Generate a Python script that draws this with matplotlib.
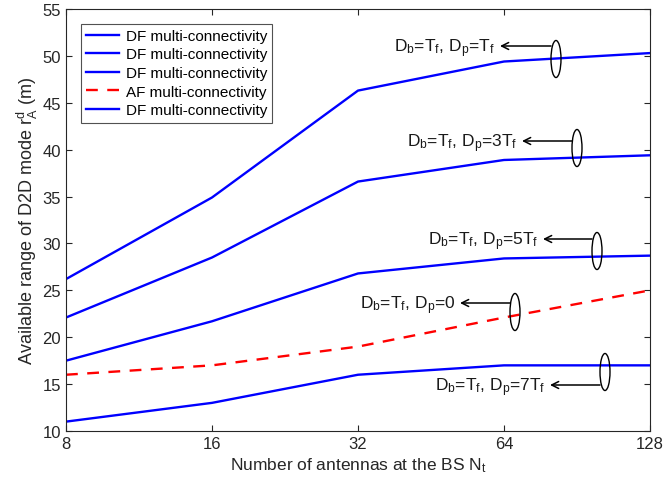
import matplotlib
matplotlib.use("Agg")
import matplotlib.pyplot as plt
from matplotlib.patches import Ellipse

plt.rcParams['font.family'] = ['Liberation Sans', 'DejaVu Sans']
plt.rcParams['mathtext.fontset'] = 'custom'
plt.rcParams['mathtext.rm'] = 'Liberation Sans'
plt.rcParams['mathtext.it'] = 'Liberation Sans'

# data
antennas = [8, 16, 32, 64, 128]
df_tf = [26.2, 34.9, 46.3, 49.4, 50.3]
df_3tf = [22.1, 28.5, 36.6, 38.9, 39.4]
df_5tf = [17.5, 21.7, 26.8, 28.4, 28.7]
af_0 = [16.0, 17.0, 19.0, 22.1, 25.0]
df_7tf = [11.0, 13.0, 16.0, 17.0, 17.0]

legend_labels = ["DF multi-connectivity", "DF multi-connectivity", "DF multi-connectivity",
                 "AF multi-connectivity", "DF multi-connectivity"]

fig = plt.figure(figsize=(6.63, 4.85), dpi=100)
ax = fig.add_axes([66 / 663, 53 / 485, 584 / 663, 422 / 485])

ax.plot(antennas, df_tf, color='#0000ff', lw=1.7, label=legend_labels[0])
ax.plot(antennas, df_3tf, color='#0000ff', lw=1.7, label=legend_labels[1])
ax.plot(antennas, df_5tf, color='#0000ff', lw=1.7, label=legend_labels[2])
ax.plot(antennas, af_0, color='#ff0000', lw=1.7, ls=(0, (5, 4)), label=legend_labels[3])
ax.plot(antennas, df_7tf, color='#0000ff', lw=1.7, label=legend_labels[4])

ax.set_xscale('log', base=2)
ax.set_xlim(8, 128)
ax.set_ylim(10, 55)
ax.set_xticks(antennas)
ax.set_xticklabels([str(a) for a in antennas])
ax.minorticks_off()
ax.set_yticks(range(10, 56, 5))
ax.tick_params(direction='in', top=True, right=True, labelsize=12, colors='#262626', length=4)
for s in ax.spines.values():
    s.set_color('#262626')
    s.set_linewidth(0.8)

ax.set_xlabel(r"Number of antennas at the BS N$_\mathregular{t}$", fontsize=12.5, color='#262626',
              labelpad=3)
ax.set_ylabel(r"Available range of D2D mode r$_\mathregular{A}^\mathregular{d}$ (m)", fontsize=13,
              color='#262626', labelpad=2)

leg = ax.legend(loc='upper left', fontsize=11, frameon=True, fancybox=False,
                edgecolor='#262626', handlelength=2.2, borderaxespad=0.95,
                labelspacing=0.3, borderpad=0.35, handletextpad=0.4)
leg.get_frame().set_linewidth(0.8)

# annotations: (ellipse centre x, y in axes fraction, arrow y, arrow tip x, text)
notes = [
    (490 / 584, 1 - 50 / 422, 1 - 37 / 422, 434 / 584, r"D$_\mathregular{b}$=T$_\mathregular{f}$, D$_\mathregular{p}$=T$_\mathregular{f}$"),
    (511 / 584, 1 - 139 / 422, 1 - 132 / 422, 456 / 584, r"D$_\mathregular{b}$=T$_\mathregular{f}$, D$_\mathregular{p}$=3T$_\mathregular{f}$"),
    (531 / 584, 1 - 242 / 422, 1 - 230 / 422, 477 / 584, r"D$_\mathregular{b}$=T$_\mathregular{f}$, D$_\mathregular{p}$=5T$_\mathregular{f}$"),
    (449 / 584, 1 - 303 / 422, 1 - 294 / 422, 394 / 584, r"D$_\mathregular{b}$=T$_\mathregular{f}$, D$_\mathregular{p}$=0"),
    (539 / 584, 1 - 363 / 422, 1 - 376 / 422, 484 / 584, r"D$_\mathregular{b}$=T$_\mathregular{f}$, D$_\mathregular{p}$=7T$_\mathregular{f}$"),
]
for cx, cy, ay, tipx, txt in notes:
    ax.add_patch(Ellipse((cx, cy), 10 / 584, 37 / 422, transform=ax.transAxes,
                         fill=False, edgecolor='black', lw=1.0, zorder=5))
    ax.annotate("", xy=(tipx, ay), xytext=(cx - 5 / 584, ay), xycoords='axes fraction',
                arrowprops=dict(arrowstyle='->,head_length=0.5,head_width=0.25', color='black', lw=1.1,
                                shrinkA=0, shrinkB=0))
    ax.text(tipx - 5 / 584, ay - 2 / 422, txt, transform=ax.transAxes, ha='right', va='center',
            fontsize=12.5, color='#1a1a1a')

fig.savefig("out.png", dpi=100)
